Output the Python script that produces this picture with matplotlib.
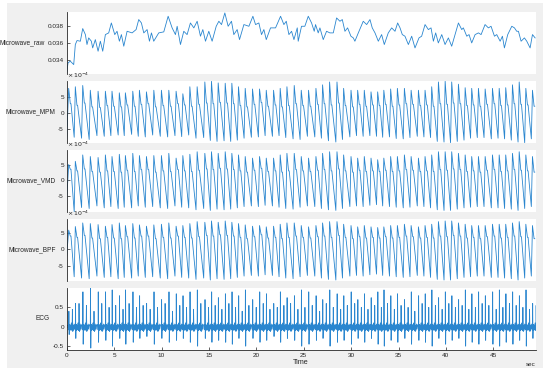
import numpy as np
import matplotlib
matplotlib.use("Agg")
import matplotlib.pyplot as plt
from matplotlib.patches import Rectangle

plt.rcParams['font.family'] = ['Liberation Sans', 'DejaVu Sans']
plt.rcParams['axes.unicode_minus'] = False

# ---------------- data ----------------
# Microwave_raw (time s, value)
raw_t = [0.0, 0.14, 0.38, 0.74, 0.91, 1.09, 1.44, 1.69, 1.97, 2.14, 2.32, 2.60, 2.74, 3.02, 3.31, 3.55,
         3.80, 4.08, 4.43, 4.71, 5.07, 5.31, 5.56, 5.77, 6.02, 6.37, 6.90, 7.32, 7.60, 7.88, 8.13, 8.48,
         8.73, 8.94, 9.18, 9.71, 10.24, 10.70, 11.12, 11.47, 11.65, 12.00, 12.35, 12.70, 13.05, 13.41,
         13.76, 14.11, 14.36, 14.64, 14.99, 15.34, 15.77, 16.05, 16.33, 16.68, 17.03, 17.38, 17.63,
         17.98, 18.23, 18.69, 19.22, 19.64, 19.92, 20.27, 20.55, 20.80, 21.05, 21.50, 22.03, 22.56,
         22.91, 23.16, 23.44, 23.72, 23.97, 24.32,
         24.42, 24.77, 25.12, 25.48, 25.83, 26.11, 26.25, 26.53, 26.71, 27.06, 27.41, 27.76, 28.12,
         28.47, 28.82, 29.07, 29.35, 29.63, 29.98, 30.23, 30.40, 30.76, 31.28, 31.64, 31.99, 32.23,
         32.52, 32.87, 33.22, 33.50, 33.92, 34.28, 34.63, 34.91, 35.16, 35.40, 35.68, 36.04, 36.39,
         36.74, 37.16, 37.44, 37.80, 38.15, 38.43, 38.68, 38.92, 39.20, 39.56, 39.91, 40.26, 40.61,
         40.96, 41.32, 41.67, 41.84, 42.20, 42.44, 42.72, 43.08, 43.43, 43.71, 44.13, 44.48, 44.76,
         45.12, 45.36, 45.72, 45.96, 46.17, 46.52, 46.95, 47.23, 47.47, 47.65, 47.93, 48.28, 48.53,
         48.88, 49.13, 49.41]
raw_v = [0.03243, 0.03361, 0.03381, 0.03341, 0.03577, 0.03624, 0.03616, 0.03765, 0.03694, 0.03577,
         0.03655, 0.03616, 0.03537, 0.03635, 0.03498, 0.03616, 0.03498, 0.03694, 0.03714, 0.03831,
         0.03694, 0.03733, 0.03616, 0.03694, 0.03557, 0.03733, 0.03714, 0.03753, 0.03871, 0.03831,
         0.03714, 0.03753, 0.03616, 0.03714, 0.03616, 0.03714, 0.03726, 0.03910, 0.03773, 0.03694,
         0.03792, 0.03577, 0.03733, 0.03694, 0.03831, 0.03773, 0.03851, 0.03675, 0.03753, 0.03616,
         0.03733, 0.03616, 0.03792, 0.03851, 0.03812, 0.03949, 0.03792, 0.03851, 0.03694, 0.03753,
         0.03635, 0.03812, 0.03792, 0.03910, 0.03812, 0.03831, 0.03694, 0.03753, 0.03635, 0.03773,
         0.03773, 0.03910, 0.03812, 0.03851, 0.03694, 0.03733, 0.03635, 0.03773,
         0.03616, 0.03792, 0.03792, 0.03910, 0.03831, 0.03733, 0.03812, 0.03714, 0.03773, 0.03635,
         0.03733, 0.03714, 0.03714, 0.03890, 0.03851, 0.03871, 0.03733, 0.03773, 0.03675, 0.03655,
         0.03616, 0.03714, 0.03851, 0.03812, 0.03871, 0.03773, 0.03714, 0.03616, 0.03694, 0.03577,
         0.03714, 0.03773, 0.03733, 0.03831, 0.03773, 0.03694, 0.03675, 0.03577, 0.03675, 0.03537,
         0.03655, 0.03675, 0.03812, 0.03753, 0.03773, 0.03616, 0.03714, 0.03596, 0.03694, 0.03577,
         0.03655, 0.03557, 0.03694, 0.03831, 0.03753, 0.03773, 0.03675, 0.03694, 0.03596, 0.03694,
         0.03714, 0.03694, 0.03812, 0.03773, 0.03792, 0.03675, 0.03694, 0.03616, 0.03675, 0.03537,
         0.03694, 0.03792, 0.03773, 0.03733, 0.03733, 0.03616, 0.03655, 0.03616, 0.03537, 0.03694,
         0.03655]

# heartbeat peak times of the microwave signals (s)
beat_t = [0.21, 0.91, 1.69, 2.49, 3.31, 4.08, 4.78, 5.55, 6.19, 6.97, 7.67, 8.41, 9.19, 9.99,
          10.77, 11.54, 12.25, 12.99, 13.76, 14.57, 15.27, 15.98,
          16.72, 17.42, 18.12, 18.83, 19.60, 20.34, 21.05, 21.82, 22.52, 23.23, 24.00, 24.74, 25.51,
          26.29, 26.99, 27.73, 28.51, 29.21, 29.99, 30.69, 31.39, 32.10, 32.80,
          33.45, 34.17, 34.88, 35.62, 36.33, 37.10, 37.80, 38.50, 39.21, 39.92, 40.61, 41.32, 42.03,
          42.72, 43.43, 44.14, 44.91, 45.62, 46.31, 47.02, 47.73, 48.43, 49.13]

# Microwave_MPM (x1e-4): peak, preceding trough, post-peak notch
mpm_peak = [7.8, 8.3, 8.7, 7.2, 6.9, 6.9, 6.9, 6.4, 6.4, 6.9, 7.2, 6.7, 7.2, 7.2, 7.2, 6.9, 6.1, 8.3,
            8.3, 9.8, 10.0, 9.5,
            9.4, 9.4, 8.3, 7.8, 7.6, 7.6, 7.2, 7.2, 7.8, 8.3, 8.7, 7.2, 7.2, 7.8, 8.9, 9.8, 9.8, 7.8,
            7.2, 7.2, 7.2, 6.7, 6.7,
            7.2, 7.6, 7.8, 7.8, 7.2, 7.2, 7.2, 8.3, 9.8, 10.0, 9.8, 9.1, 8.0, 7.8, 7.8, 7.6, 7.8, 7.8,
            8.0, 8.9, 9.8, 7.8, 7.2]
mpm_trough = [-8.0, -7.5, -7.8, -8.2, -7.0, -7.2, -7.0, -6.8, -7.0, -6.6, -7.2, -7.4, -6.8, -7.2,
              -7.4, -7.0, -7.3, -6.8, -7.8, -7.6, -8.5, -8.8,
              -8.6, -8.8, -8.4, -7.8, -7.5, -7.4, -7.0, -7.2, -7.0, -7.6, -8.0, -8.2, -7.2, -7.4,
              -7.8, -8.6, -9.0, -8.2, -7.4, -7.0, -7.2, -7.0, -7.2,
              -7.5, -7.4, -7.9, -8.0, -7.6, -7.2, -7.4, -7.6, -8.8, -9.0, -9.2, -8.8, -8.4, -7.8,
              -7.6, -7.6, -8.0, -7.8, -8.0, -8.4, -9.0, -9.2, -8.0]
mpm_notch = [3.0, 2.5, 3.2, 2.0, 1.8, 2.4, 2.2, 2.0, 2.6, 2.2, 2.8, 3.0, 2.0, 2.4, 2.2, 3.0, 2.6,
             2.2, 2.8, 3.2, 3.0, 3.4,
             3.2, 3.0, 2.4, 2.0, 2.8, 3.4, 2.2, 2.6, 2.0, 2.4, 3.0, 2.4, 2.2, 2.8, 3.0, 2.6, 3.2,
             2.4, 2.0, 2.8, 2.2, 2.6, 2.4,
             2.8, 2.2, 2.6, 3.0, 2.8, 2.4, 2.6, 2.2, 3.0, 2.8, 3.2, 3.0, 2.4, 2.6, 2.2, 2.8, 3.0,
             2.4, 2.6, 3.0, 2.8, 2.6, 2.2]

# Microwave_VMD (x1e-4)
vmd_peak = [5.0, 6.0, 8.0, 7.5, 7.2, 8.0, 7.5, 8.2, 7.8, 8.5, 7.8, 7.5, 7.8, 7.8, 8.5, 7.0, 7.8,
            8.2, 9.0, 8.5, 9.0, 8.5,
            9.0, 8.5, 8.0, 7.5, 7.0, 7.5, 7.0, 7.0, 8.0, 8.5, 8.5, 7.5, 7.0, 7.5, 8.5, 9.0, 9.0, 8.0,
            7.5, 7.0, 7.5, 7.0, 6.5,
            7.0, 7.5, 7.5, 8.0, 7.5, 7.0, 7.5, 8.0, 9.0, 9.0, 9.0, 8.5, 8.0, 7.5, 7.5, 7.5, 8.0, 8.0,
            8.0, 8.5, 9.0, 8.0, 7.5]
vmd_trough = [-6.0, -9.8, -8.5, -8.8, -8.0, -8.6, -8.2, -8.8, -8.4, -8.6, -8.0, -8.4, -8.2, -8.6,
              -8.8, -8.0, -8.4, -8.6, -9.2, -8.8, -9.4, -9.0,
              -9.2, -9.0, -8.6, -8.2, -8.0, -8.2, -7.8, -8.0, -8.4, -8.8, -9.0, -8.4, -8.0, -8.2,
              -8.8, -9.2, -9.4, -8.8, -8.2, -8.0, -8.2, -7.8, -7.6,
              -8.0, -8.2, -8.4, -8.6, -8.4, -8.0, -8.2, -8.6, -9.2, -9.4, -9.4, -9.0, -8.6, -8.4,
              -8.2, -8.2, -8.6, -8.6, -8.8, -9.0, -9.4, -8.8, -8.2]
vmd_notch = [3.5, 3.0, 3.6, 2.8, 2.6, 3.0, 2.8, 2.6, 3.2, 2.8, 3.4, 3.4, 2.6, 3.0, 2.8, 3.4, 3.0,
             2.8, 3.2, 3.6, 3.4, 3.8,
             3.6, 3.4, 3.0, 2.6, 3.2, 3.8, 2.8, 3.0, 2.6, 3.0, 3.4, 3.0, 2.8, 3.2, 3.4, 3.0, 3.6,
             3.0, 2.6, 3.2, 2.8, 3.0, 2.8,
             3.2, 2.8, 3.0, 3.4, 3.2, 2.8, 3.0, 2.8, 3.4, 3.2, 3.6, 3.4, 2.8, 3.0, 2.6, 3.2, 3.4,
             2.8, 3.0, 3.4, 3.2, 3.0, 2.6]

# Microwave_BPF (x1e-4)
bpf_peak = [5.8, 6.9, 8.0, 7.8, 7.5, 7.0, 7.5, 8.0, 7.2, 7.8, 7.4, 7.0, 7.4, 7.6, 8.0, 7.0, 7.2,
            7.8, 8.4, 8.2, 8.6, 8.2,
            8.6, 8.2, 7.8, 7.4, 7.0, 7.2, 6.8, 7.0, 7.6, 8.0, 8.0, 7.2, 6.8, 7.2, 8.0, 8.4, 8.4, 7.6,
            7.2, 6.8, 7.2, 6.8, 6.6,
            6.8, 7.2, 7.2, 7.6, 7.2, 6.8, 7.2, 7.6, 8.4, 8.6, 8.6, 8.0, 7.6, 7.2, 7.2, 7.2, 7.6, 7.6,
            7.6, 8.0, 8.4, 7.6, 7.2]
bpf_trough = [-2.0, -8.4, -8.8, -9.0, -8.2, -8.6, -8.4, -9.0, -8.6, -8.8, -8.2, -8.6, -8.4, -8.8,
              -9.0, -8.2, -8.6, -8.8, -9.2, -8.8, -9.4, -9.0,
              -9.2, -9.0, -8.6, -8.2, -8.0, -8.2, -7.8, -8.0, -8.4, -8.8, -9.0, -8.4, -8.0, -8.2,
              -8.8, -9.2, -9.4, -8.8, -8.2, -8.0, -8.2, -7.8, -7.6,
              -8.0, -8.2, -8.4, -8.6, -8.4, -8.0, -8.2, -8.6, -9.2, -9.4, -9.4, -9.0, -8.6, -8.4,
              -8.2, -8.2, -8.6, -8.6, -8.8, -9.0, -9.4, -8.8, -8.2]
bpf_notch = [4.0, 3.6, 4.2, 3.4, 3.2, 3.6, 3.4, 3.2, 3.8, 3.4, 4.0, 4.0, 3.2, 3.6, 3.4, 4.0, 3.6,
             3.4, 3.8, 4.2, 4.0, 4.4,
             4.2, 4.0, 3.6, 3.2, 3.8, 4.4, 3.4, 3.6, 3.2, 3.6, 4.0, 3.6, 3.4, 3.8, 4.0, 3.6, 4.2,
             3.6, 3.2, 3.8, 3.4, 3.6, 3.4,
             3.8, 3.4, 3.6, 4.0, 3.8, 3.4, 3.6, 3.4, 4.0, 3.8, 4.2, 4.0, 3.4, 3.6, 3.2, 3.8, 4.0,
             3.4, 3.6, 4.0, 3.8, 3.6, 3.2]

# ECG per beat: R peak, S dip, secondary spike
ecg_r = [0.4, 0.6, 0.9, 1.0, 0.9, 0.9, 0.95, 0.8, 0.95, 0.9, 0.8, 0.6, 0.9, 0.7, 0.9, 0.85, 0.8,
         0.9, 0.95, 0.7, 0.9, 0.75, 0.85, 0.9, 0.8, 0.95, 0.7, 0.9, 0.85, 0.6, 0.9, 0.75, 0.8, 0.95,
         0.9, 0.8, 0.7, 0.95, 0.85, 0.8, 0.9, 0.7, 0.85, 0.75, 0.9, 0.95, 0.8, 0.85, 0.7, 0.9, 0.8,
         0.85, 0.95, 0.75, 0.9, 0.8, 0.7, 0.95, 0.85, 0.9, 0.8, 0.9, 0.95, 0.85, 0.9, 0.8, 0.95, 0.6]
ecg_s = [-0.2, -0.3, -0.45, -0.55, -0.4, -0.35, -0.5, -0.3, -0.45, -0.4, -0.3, -0.25, -0.45, -0.3,
         -0.4, -0.35, -0.3, -0.4, -0.5, -0.3, -0.4, -0.35, -0.4, -0.45, -0.3, -0.5, -0.3, -0.4, -0.35,
         -0.25, -0.4, -0.3, -0.35, -0.5, -0.45, -0.35, -0.3, -0.5, -0.4, -0.35, -0.45, -0.3, -0.4,
         -0.3, -0.45, -0.5, -0.35, -0.4, -0.3, -0.45, -0.35, -0.4, -0.5, -0.3, -0.45, -0.35, -0.3,
         -0.5, -0.4, -0.45, -0.35, -0.45, -0.5, -0.4, -0.45, -0.35, -0.5, -0.3]
ecg_t2 = [0.45, 0.6, 0.55, 0.4, 0.6, 0.5, 0.55, 0.45, 0.6, 0.5, 0.55, 0.45, 0.5, 0.6, 0.4, 0.55,
          0.5, 0.45, 0.6, 0.5, 0.55, 0.45, 0.6, 0.5, 0.4, 0.55, 0.5, 0.6, 0.45, 0.5, 0.55, 0.6, 0.45,
          0.5, 0.55, 0.4, 0.6, 0.5, 0.45, 0.55, 0.6, 0.5, 0.45, 0.55, 0.5, 0.6, 0.45, 0.55, 0.5, 0.4,
          0.6, 0.5, 0.55, 0.45, 0.6, 0.5, 0.55, 0.45, 0.5, 0.6, 0.55, 0.45, 0.5, 0.6, 0.55, 0.5,
          0.45, 0.55]

x_ticks = [0, 5, 10, 15, 20, 25, 30, 35, 40, 45]
panel_names = ['Microwave_raw', 'Microwave_MPM', 'Microwave_VMD', 'Microwave_BPF', 'ECG']

# ---------------- build line vertices from beat landmarks ----------------
def microwave(peaks, troughs, notches):
    t, v = [0.0], [troughs[0]]
    for i, tp in enumerate(beat_t):
        if i > 0:
            t.append(tp - 0.12); v.append(troughs[i])
        t.append(tp); v.append(peaks[i])
        t.append(tp + 0.17); v.append(notches[i])
        t.append(tp + 0.24); v.append(notches[i])
    return t, v


def ecg():
    t, v = [0.0], [0.0]
    for i, tp in enumerate(beat_t):
        tb = tp + 0.02
        t += [tb - 0.06, tb - 0.02, tb, tb + 0.03, tb + 0.06, tb + 0.11, tb + 0.16, tb + 0.21,
              tb + 0.26, tb + 0.30, tb + 0.34, tb + 0.37, tb + 0.41, tb + 0.45, tb + 0.50,
              tb + 0.55, tb + 0.60, tb + 0.65]
        v += [0.05, -0.08, ecg_r[i], ecg_s[i], 0.06, -0.1, 0.05, -0.08, 0.1, 0.08, -0.1,
              ecg_t2[i], -0.12, 0.04, -0.09, 0.07, -0.06, 0.05]
    t.append(49.45); v.append(0.0)
    return t, v

series = [
    (raw_t, raw_v),
    microwave(mpm_peak, mpm_trough, mpm_notch),
    microwave(vmd_peak, vmd_trough, vmd_notch),
    microwave(bpf_peak, bpf_trough, bpf_notch),
    ecg(),
]

# ---------------- figure ----------------
W, H = 550, 377
fig = plt.figure(figsize=(W / 100, H / 100), dpi=100)
fig.patch.set_facecolor('white')
fig.add_artist(Rectangle((7 / W, 1 - 368 / H), (543 - 7) / W, (368 - 3) / H,
                         transform=fig.transFigure, facecolor='#f0f0f0', edgecolor='none', zorder=-10))

tops = [12, 81, 150, 219, 288]
ph = 62
left, right = 66.7, 535.5
ylims = [(0.0323, 0.0396), (-9.3, 10.1), (-9.9, 9.55), (-9.7, 9.2), (-0.6, 1.0)]
yticks = [[0.034, 0.036, 0.038], [-5, 0, 5], [-5, 0, 5], [-5, 0, 5], [-0.5, 0, 0.5]]
yticklabels = [['0.034', '0.036', '0.038'], ['-5', '0', '5'], ['-5', '0', '5'], ['-5', '0', '5'],
               ['-0.5', '0', '0.5']]
line_color = '#2a86cf'
txt = '#262626'

for k in range(5):
    ax = fig.add_axes([left / W, 1 - (tops[k] + ph) / H, (right - left) / W, ph / H])
    ax.set_facecolor('white')
    t, v = series[k]
    ax.plot(t, v, color=line_color, lw=0.6, solid_joinstyle='round')
    ax.set_xlim(0, 49.45)
    ax.set_ylim(*ylims[k])
    ax.set_yticks(yticks[k])
    ax.set_yticklabels(yticklabels[k])
    for s in ['top', 'right']:
        ax.spines[s].set_visible(False)
    ax.spines['left'].set_color(txt)
    ax.spines['left'].set_linewidth(0.6)
    ax.tick_params(axis='both', direction='in', length=2.5, width=0.5, labelsize=4.6,
                   colors=txt, pad=2)
    ax.set_ylabel(panel_names[k], rotation=0, ha='right', va='center', fontsize=4.7,
                  color=txt, labelpad=2)
    if k in (1, 2, 3):
        ax.text(0.0, 1.01, r'$\times\,10^{-4}$', transform=ax.transAxes, fontsize=4.5,
                color=txt, ha='left', va='bottom')
    if k < 4:
        ax.spines['bottom'].set_visible(False)
        ax.set_xticks([])
    else:
        ax.spines['bottom'].set_color(txt)
        ax.spines['bottom'].set_linewidth(0.6)
        ax.set_xticks(x_ticks)
        ax.set_xticklabels([str(x) for x in x_ticks])
        ax.set_xlabel('Time', fontsize=5.2, color=txt, labelpad=1)
        ax.text(1.0, -0.2, 'sec', transform=ax.transAxes, fontsize=4.5, color=txt,
                ha='right', va='top')

fig.savefig('out.png', dpi=100)
